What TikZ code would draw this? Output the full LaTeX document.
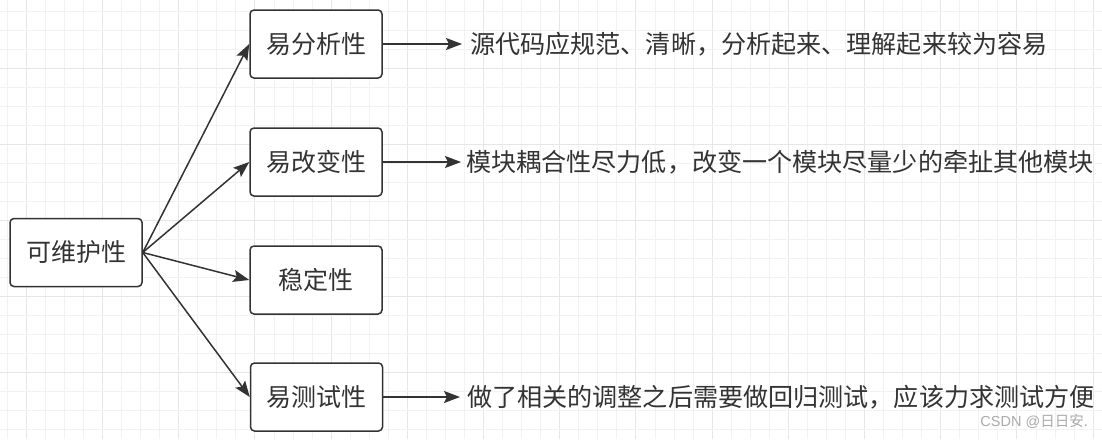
\documentclass[tikz,border=0pt]{standalone}
\usepackage{fontspec}
\setmainfont{Noto Sans CJK SC}
\newfontfamily\wmlatin{Liberation Sans}
\usetikzlibrary{arrows.meta}
\definecolor{ink}{HTML}{333333}
\definecolor{gridminor}{HTML}{F2F2F2}
\definecolor{gridmajor}{HTML}{E6E6E6}
\definecolor{wm}{HTML}{ABABAB}
\begin{document}
\begin{tikzpicture}[x=1pt,y=-1pt,
  box/.style={draw=ink, line width=1.5pt, rounded corners=4pt, fill=white,
    minimum width=132pt, minimum height=68pt, inner sep=0pt,
    text=ink, font=\fontsize{25}{28}\selectfont},
  note/.style={anchor=west, inner sep=0pt, text=ink, font=\fontsize{25.1}{28}\selectfont},
  conn/.style={draw=ink, line width=1.5pt, -{Stealth[length=16pt,width=12pt,inset=3pt]}}]
\useasboundingbox (0,0) rectangle (1102,439);
\fill[white] (0,0) rectangle (1102,439);
% grid
\foreach \i in {0,...,57}{
  \pgfmathsetmacro{\xx}{7.3+19.05*\i}
  \pgfmathtruncatemacro{\m}{mod(\i,4)}
  \ifnum\m=1 \draw[gridmajor, line width=1pt] (\xx,0) -- (\xx,439);
  \else \draw[gridminor, line width=1pt] (\xx,0) -- (\xx,439); \fi
}
\foreach \j in {0,...,22}{
  \pgfmathsetmacro{\yy}{11.7+19.0*\j}
  \pgfmathtruncatemacro{\m}{mod(\j,4)}
  \ifnum\m=3 \draw[gridmajor, line width=1pt] (0,\yy) -- (1102,\yy);
  \else \draw[gridminor, line width=1pt] (0,\yy) -- (1102,\yy); \fi
}
% nodes
\node[box] (root) at (76,252.5) {可维护性};
\node[box] (a) at (316,44) {易分析性};
\node[box] (b) at (316,162) {易改变性};
\node[box] (c) at (316,280) {稳定性};
\node[box] (d) at (316.5,397) {易测试性};
\node[note] (ta) at (470,44) {源代码应规范、清晰，分析起来、理解起来较为容易};
\node[note] (tb) at (466,162) {模块耦合性尽力低，改变一个模块尽量少的牵扯其他模块};
\node[note] (td) at (467,397) {做了相关的调整之后需要做回归测试，应该力求测试方便};
\node[anchor=east, inner sep=0pt, text=wm, font=\fontsize{14.5}{16}\selectfont] (wmk) at (1088,421) {{\wmlatin CSDN @}日日安.};
% connectors
\draw[conn] (root.east) -- (a.west);
\draw[conn] (root.east) -- (b.west);
\draw[conn] (root.east) -- (c.west);
\draw[conn] (root.east) -- (d.west);
\draw[conn, shorten >=8pt] (a.east) -- (ta.west);
\draw[conn, shorten >=5pt] (b.east) -- (tb.west);
\draw[conn, shorten >=7pt] (d.east) -- (td.west);
\end{tikzpicture}
\end{document}
